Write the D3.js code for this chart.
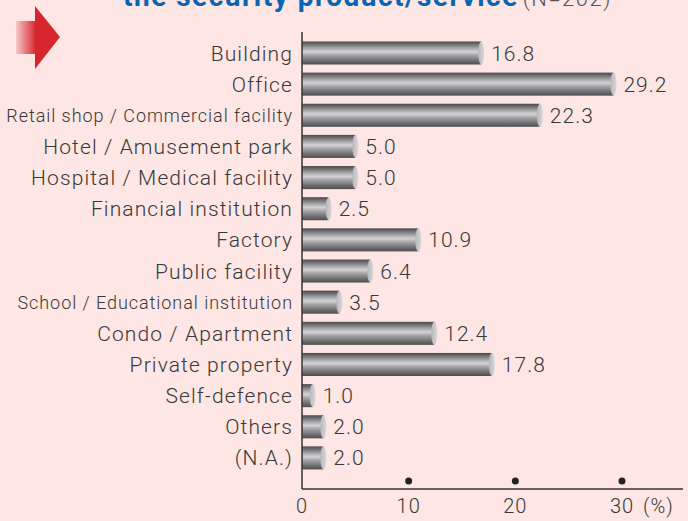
<!DOCTYPE html>
<html>
<head>
<meta charset="utf-8">
<script src="https://cdn.jsdelivr.net/npm/d3@7"></script>
<style>
  body { margin: 0; background: #fde6e4; }
  svg { display: block; }
</style>
</head>
<body>
<div id="chart"></div>
<script>
// Data
const categories = ["Building", "Office", "Retail shop / Commercial facility", "Hotel / Amusement park",
    "Hospital / Medical facility", "Financial institution", "Factory", "Public facility",
    "School / Educational institution", "Condo / Apartment", "Private property", "Self-defence",
    "Others", "(N.A.)"];
const values = [16.8, 29.2, 22.3, 5.0, 5.0, 2.5, 10.9, 6.4, 3.5, 12.4, 17.8, 1.0, 2.0, 2.0];
const ticks = [0, 10, 20, 30];
const smallLabels = ["Retail shop / Commercial facility", "School / Educational institution"];

const W = 688, H = 521;
const font = "Roboto, sans-serif";
const textColor = "#383838";

const svg = d3.select("#chart").append("svg")
    .attr("width", W)
    .attr("height", H);

svg.append("rect").attr("width", W).attr("height", H).attr("fill", "#fde6e4");

const defs = svg.append("defs");

// cylinder look for the bars
const grad = defs.append("linearGradient")
    .attr("id", "barGrad")
    .attr("x1", 0).attr("y1", 0).attr("x2", 0).attr("y2", 1);
[[0, "#4a4a4c"], [0.12, "#6e6e70"], [0.3, "#a9a9ab"], [0.45, "#d4d4d6"], [0.6, "#a4a4a6"],
 [0.85, "#6c6c6e"], [1, "#4e4e50"]].forEach(([o, c]) => {
    grad.append("stop").attr("offset", o).attr("stop-color", c);
});

const capGrad = defs.append("linearGradient")
    .attr("id", "capGrad")
    .attr("x1", 0).attr("y1", 0).attr("x2", 1).attr("y2", 0);
capGrad.append("stop").attr("offset", 0).attr("stop-color", "#b8b8ba");
capGrad.append("stop").attr("offset", 1).attr("stop-color", "#d8d8da");

const arrowGrad = defs.append("linearGradient")
    .attr("id", "arrowGrad")
    .attr("x1", 0).attr("y1", 0).attr("x2", 1).attr("y2", 0);
arrowGrad.append("stop").attr("offset", 0).attr("stop-color", "#d7262e").attr("stop-opacity", 0.15);
arrowGrad.append("stop").attr("offset", 1).attr("stop-color", "#d7262e").attr("stop-opacity", 1);

// Title (cut off at the top in the original)
const title = svg.append("text")
    .attr("x", 123)
    .attr("y", 6)
    .style("font-family", font);
title.append("tspan")
    .attr("fill", "#0a64b4")
    .attr("font-weight", "bold")
    .attr("font-size", 28)
    .attr("letter-spacing", 1.5)
    .text("the security product/service");
title.append("tspan")
    .attr("fill", "#555")
    .attr("font-size", 22)
    .attr("font-weight", 300)
    .attr("letter-spacing", 1.5)
    .attr("dx", 4)
    .text("(N=202)");

// Red arrow
svg.append("rect")
    .attr("x", 16).attr("y", 21)
    .attr("width", 20).attr("height", 33)
    .attr("fill", "url(#arrowGrad)");
svg.append("path")
    .attr("d", "M35,6 L60,37 L35,69 Z")
    .attr("fill", "#d7262e");

// Scales
const x = d3.scaleLinear().domain([0, 30]).range([302, 622]);
const y = d3.scaleBand()
    .domain(categories)
    .range([37.4, 473.5])
    .paddingInner(0.26)
    .paddingOuter(0.13);

// Bars
const rows = svg.append("g").selectAll("g")
    .data(categories.map((c, i) => ({ cat: c, val: values[i] })))
    .join("g");

rows.append("rect")
    .attr("x", x(0))
    .attr("y", d => y(d.cat))
    .attr("width", d => x(d.val) - x(0))
    .attr("height", y.bandwidth())
    .attr("fill", "url(#barGrad)");

rows.append("ellipse")
    .attr("cx", d => x(d.val))
    .attr("cy", d => y(d.cat) + y.bandwidth() / 2)
    .attr("rx", 3)
    .attr("ry", y.bandwidth() / 2)
    .attr("fill", "url(#capGrad)");

// Value labels
rows.append("text")
    .attr("x", d => x(d.val) + 10)
    .attr("y", d => y(d.cat) + y.bandwidth() / 2)
    .attr("dy", "0.36em")
    .attr("fill", textColor)
    .attr("letter-spacing", 1)
    .style("font-family", font)
    .style("font-weight", 300)
    .style("font-size", "21px")
    .text(d => d.val.toFixed(1));

// Category labels
rows.append("text")
    .attr("x", x(0) - 9)
    .attr("y", d => y(d.cat) + y.bandwidth() / 2)
    .attr("dy", "0.36em")
    .attr("text-anchor", "end")
    .attr("fill", textColor)
    .attr("letter-spacing", d => smallLabels.includes(d.cat) ? 0.95 : 1.1)
    .style("font-family", font)
    .style("font-weight", 300)
    .style("font-size", d => smallLabels.includes(d.cat) ? "18px" : "21px")
    .text(d => d.cat);

// Axes lines
const axisY = 489;
svg.append("line")
    .attr("x1", x(0)).attr("x2", x(0))
    .attr("y1", 32).attr("y2", axisY)
    .attr("stroke", "#333").attr("stroke-width", 1.5);
svg.append("line")
    .attr("x1", x(0)).attr("x2", 683)
    .attr("y1", axisY).attr("y2", axisY)
    .attr("stroke", "#333").attr("stroke-width", 1.5);

// Tick dots
svg.append("g").selectAll("circle")
    .data(ticks.filter(t => t > 0))
    .join("circle")
    .attr("cx", d => x(d))
    .attr("cy", axisY - 8)
    .attr("r", 3.5)
    .attr("fill", "#222");

// Tick labels
svg.append("g").selectAll("text")
    .data(ticks)
    .join("text")
    .attr("x", d => x(d))
    .attr("y", 513)
    .attr("text-anchor", "middle")
    .attr("fill", textColor)
    .attr("letter-spacing", 1)
    .style("font-family", font)
    .style("font-weight", 300)
    .style("font-size", "20px")
    .text(d => d);

svg.append("text")
    .attr("x", x(30) + 21)
    .attr("y", 513)
    .attr("fill", textColor)
    .attr("letter-spacing", 1)
    .style("font-family", font)
    .style("font-weight", 300)
    .style("font-size", "20px")
    .text("(%)");
</script>
</body>
</html>
